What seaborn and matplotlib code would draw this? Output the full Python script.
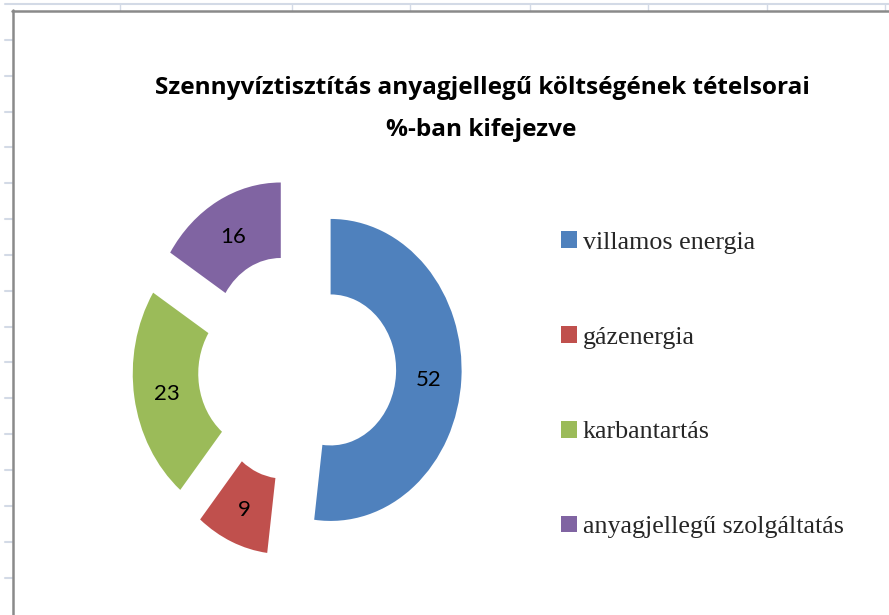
import matplotlib
matplotlib.use("Agg")
import matplotlib.pyplot as plt
import seaborn as sns
from matplotlib.lines import Line2D

categories = ["villamos energia", "gázenergia", "karbantartás", "anyagjellegű szolgáltatás"]
values = [52, 9, 23, 16]
colors_hex = ["#4F81BD", "#C0504D", "#9BBB59", "#8064A2"]
title_lines = ["Szennyvíztisztítás anyagjellegű költségének tételsorai", "%-ban kifejezve"]

sns.set_theme(style="white")
palette = sns.color_palette(colors_hex)

W, H = 889, 615
fig = plt.figure(figsize=(W / 100, H / 100), dpi=100)
fig.patch.set_facecolor("white")

# spreadsheet decoration (grid behind the chart object)
grid_c = "#d3dae6"
fig.add_artist(Line2D([5 / W, 1], [1 - 4 / H, 1 - 4 / H], color=grid_c, lw=1.5))
for x in [120, 292, 410, 530, 648, 767, 885]:
    fig.add_artist(Line2D([x / W, x / W], [1 - 4 / H, 1 - 10 / H], color=grid_c, lw=1))
for y in [40, 76, 112, 147, 183, 219, 255, 291, 327, 362, 398, 434, 470, 506, 542, 578]:
    fig.add_artist(Line2D([5 / W, 12 / W], [1 - y / H, 1 - y / H], color=grid_c, lw=1.5))
# chart frame
fig.add_artist(Line2D([12 / W, 1], [1 - 10.5 / H, 1 - 10.5 / H], color="#8a8a8a", lw=1.8))
fig.add_artist(Line2D([12.5 / W, 12.5 / W], [1 - 10 / H, 0], color="#8a8a8a", lw=1.8))

# donut axes: centre (297, 367.5 from top), radii 131 px x 151 px
cx, cy = 297, H - 367.5
rx, ry = 131, 151
span = 1.6
ax = fig.add_axes([(cx - span * rx) / W, (cy - span * ry) / H,
                   2 * span * rx / W, 2 * span * ry / H])
wedges, texts, autotexts = ax.pie(
    values, colors=palette, startangle=90, counterclock=False,
    explode=[0.257] * len(values), radius=1,
    wedgeprops=dict(width=0.5, linewidth=0),
    autopct=lambda p: f"{p:.0f}", pctdistance=0.75,
    textprops=dict(fontsize=16, color="black", family="Lato"))
for t in autotexts:
    x, y = t.get_position()
    t.set_position((x, y - 0.02))
ax.set_xlim(-span, span)
ax.set_ylim(-span, span)
ax.set_aspect("auto")
ax.axis("off")

fig.text(482 / W, 1 - 88 / H, title_lines[0], ha="center", va="center",
         fontsize=17.6, fontweight="bold", family="Open Sans", color="black")
fig.text(481 / W, 1 - 130 / H, title_lines[1], ha="center", va="center",
         fontsize=17.6, fontweight="bold", family="Open Sans", color="black")

leg = fig.legend(wedges, categories, loc="upper left",
                 bbox_to_anchor=(551 / W, 1 - 221 / H), bbox_transform=fig.transFigure,
                 frameon=False, prop=dict(family="Liberation Serif", size=18.7),
                 handlelength=0.62, handleheight=0.62, handletextpad=0.2,
                 labelspacing=2.78, borderaxespad=0)

fig.savefig("out.png", dpi=100, facecolor="white")
